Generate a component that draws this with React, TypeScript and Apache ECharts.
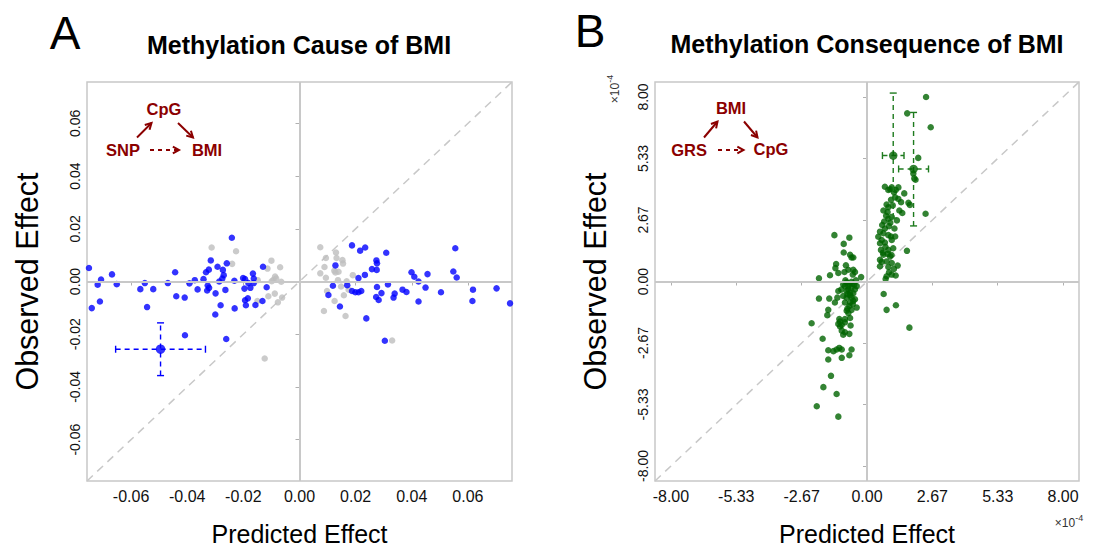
import React, { useEffect, useRef } from "react";
import * as echarts from "echarts";

// ---------- Panel A: Methylation Cause of BMI (predicted, observed) ----------
const causeTicks = [-0.06, -0.04, -0.02, 0, 0.02, 0.04, 0.06];
const causeLimit = 0.0757;

const causeSignificant: [number, number][] = [
  [-0.075, 0.0051], [-0.074, -0.0101], [-0.0719, -0.0012], [-0.0707, 0.0007], [-0.0711, -0.0076],
  [-0.0668, 0.0027], [-0.0651, -0.001], [-0.0567, -0.0029], [-0.0551, -0.0006], [-0.0543, -0.0097],
  [-0.0521, -0.0029], [-0.0469, -0.0006], [-0.0443, 0.0035], [-0.0439, -0.0056], [-0.0409, -0.0061],
  [-0.0408, -0.0204], [-0.0392, -0.0007], [-0.0373, 0.0005], [-0.0363, -0.003], [-0.0342, 0.0009],
  [-0.0333, 0.0035], [-0.0323, 0.0045], [-0.0316, 0.008], [-0.0327, -0.0015], [-0.0322, -0.0024],
  [-0.0329, -0.0034], [-0.0299, -0.0045], [-0.03, -0.0125], [-0.0292, 0.0056], [-0.0286, 0.0],
  [-0.0281, -0.009], [-0.0273, 0.0044], [-0.027, 0.0024], [-0.0275, 0.0011], [-0.0264, -0.0032],
  [-0.0259, 0.0069], [-0.0261, -0.0218], [-0.0241, 0.0166], [-0.0232, 0.0003], [-0.0231, -0.0102],
  [-0.0201, 0.0013], [-0.0194, 0.0009], [-0.0196, -0.0027], [-0.0194, -0.0071], [-0.0191, -0.009],
  [-0.0184, -0.0064], [-0.0182, -0.0006], [-0.0175, -0.0024], [-0.0166, 0.003], [-0.0163, 0.0011],
  [-0.0163, -0.0006], [-0.0157, -0.0089], [-0.0132, -0.0074], [-0.013, 0.0056], [-0.0117, -0.0022],
  [0.0187, 0.0137], [0.0216, 0.0117], [0.0234, 0.0129], [0.0309, 0.0109], [0.0555, 0.0126],
  [0.0128, 0.0061], [0.0274, 0.008], [0.0276, 0.0069], [0.0258, 0.0047], [0.0275, 0.0044],
  [0.0233, 0.0025], [0.021, 0.0013], [0.0399, 0.0035], [0.0409, 0.0018], [0.0424, 0.0],
  [0.0456, 0.0028], [0.0548, 0.0038], [0.056, 0.0015], [0.0315, -0.0011], [0.0119, -0.0016],
  [0.017, -0.0014], [0.0103, -0.0051], [0.0144, -0.0095], [0.0187, -0.0036], [0.0199, -0.0041],
  [0.021, -0.0041], [0.022, -0.0036], [0.0276, -0.0021], [0.0292, -0.0044], [0.0273, -0.0059],
  [0.0282, -0.007], [0.0339, -0.0046], [0.0335, -0.0061], [0.0367, -0.0031], [0.0381, -0.004],
  [0.0449, -0.0023], [0.0424, -0.0076], [0.0504, -0.0041], [0.0618, -0.0031], [0.0616, -0.0074],
  [0.0702, -0.0026], [0.075, -0.0083], [0.0238, -0.014], [0.0304, -0.0225],
];

const causeNonSignificant: [number, number][] = [
  [-0.0313, 0.0129], [-0.0226, 0.0115], [-0.024, 0.0067], [-0.0149, 0.0005], [-0.015, -0.0074],
  [-0.0114, 0.0049], [-0.01, 0.0079], [-0.0069, 0.0054], [-0.0087, 0.0019], [-0.0093, 0.0006],
  [-0.0083, 0.0011], [-0.0065, -0.0001], [-0.0099, 0.0001], [-0.0111, -0.0056], [-0.0088, -0.0046],
  [-0.0077, -0.0079], [-0.0062, -0.0061], [-0.0124, -0.0292],
  [0.0074, 0.013], [0.013, 0.011], [0.0094, 0.0089], [0.0132, 0.0089], [0.0153, 0.0081],
  [0.0155, 0.0068], [0.0089, 0.0055], [0.0074, 0.0031], [0.0124, 0.0041], [0.0139, 0.0037],
  [0.0128, 0.0034], [0.0094, 0.0014], [0.0137, 0.0005], [0.019, 0.0024], [0.0168, 0.0001],
  [0.0148, -0.0019], [0.0098, -0.0036], [0.0175, -0.0031], [0.0158, -0.0052], [0.0125, -0.0074],
  [0.0087, -0.0112], [0.0164, -0.0131], [0.033, -0.0224],
];

// [x, y, xLow, xHigh, yLow, yHigh]
const causeErrorBar: number[][] = [[-0.0495, -0.0257, -0.0655, -0.0335, -0.0357, -0.0157]];

// ---------- Panel B: Methylation Consequence of BMI (units of 1e-4) ----------
const consequenceTicks = [-8, -16 / 3, -8 / 3, 0, 8 / 3, 16 / 3, 8];
const consequenceLimit = 8.65;

const consequencePoints: [number, number][] = [
  [-1.33, 2.01], [-0.72, 1.9], [-0.95, 1.63], [-0.95, 1.26], [-0.69, 1.16], [-0.63, 1.04], [-0.56, 1.04],
  [-1.26, 0.76], [-1.29, 0.58], [-0.86, 0.7], [-0.76, 0.51], [-0.92, 0.41], [-0.56, 0.51], [-0.49, 0.41],
  [-0.58, 0.3], [-0.24, 0.19], [-1.17, 0.37], [-1.51, 0.27], [-1.96, 0.14], [-0.83, -0.03], [-0.72, -0.1],
  [-0.63, -0.01], [-0.52, -0.13], [-0.42, -0.2], [-0.9, -0.2], [-0.76, -0.34], [-1.17, -0.41], [-0.69, -0.49],
  [-0.56, -0.51], [-0.97, -0.63], [-0.83, -0.7], [-0.63, -0.7], [-0.49, -0.77], [-1.21, -0.7], [-1.96, -0.74],
  [-1.54, -0.74], [-1.31, -0.91], [-0.9, -0.91], [-0.69, -0.91], [-0.58, -0.98], [-0.42, -1.13], [-1.58, -1.23],
  [-0.83, -1.27], [-1.62, -1.46], [-0.76, -1.37], [-1.13, -1.63], [-0.9, -1.63], [-0.69, -1.58], [-2.26, -1.81],
  [-1.17, -1.84], [-1.1, -1.95], [-0.67, -1.91], [-1.03, -2.13], [-0.9, -2.2], [-0.72, -2.27], [-0.97, -2.31],
  [-1.81, -2.48], [-1.58, -2.98], [-1.37, -3.02], [-1.24, -2.95], [-1.13, -2.88], [-1.03, -2.95], [-0.63, -2.95],
  [-0.72, -3.2], [-1.03, -3.31], [-1.58, -3.38], [-1.47, -4.09], [-1.78, -4.58], [-1.24, -4.88], [-2.05, -5.41],
  [-1.17, -5.86], [-0.97, -0.13], [-0.76, -0.2], [-0.63, -0.27], [-0.49, -0.34], [-0.83, -0.41], [-0.69, -0.6],
  [-0.56, -0.84], [-0.72, -1.06], [-0.8, -1.17], [-0.63, -1.23], [-1.1, -1.74], [-0.9, -1.77], [-1.03, -1.88],
  [-0.8, -0.55], [-0.6, -0.1], [-0.88, 0.05], [-1.05, -0.35], [-0.45, 0.05],
  [2.41, 8.0], [1.64, 7.29], [2.6, 6.69], [2.09, 5.36], [1.89, 4.68], [1.93, 4.47], [1.98, 4.41], [2.39, 2.94],
  [1.63, 1.33], [0.73, 4.11], [1.01, 4.08], [1.17, 3.97], [1.1, 3.87], [0.87, 3.97], [1.28, 4.08], [1.52, 3.82],
  [0.98, 3.54], [1.28, 3.58], [1.39, 3.44], [1.69, 3.41], [1.75, 3.32], [0.8, 3.34], [0.87, 3.22], [0.67, 3.08],
  [0.84, 3.01], [1.32, 3.08], [1.44, 2.97], [0.87, 2.72], [1.01, 2.8], [0.9, 2.4], [0.73, 2.3], [0.53, 2.16],
  [0.67, 2.09], [0.87, 2.01], [0.46, 1.94], [1.01, 1.8], [0.73, 1.69], [0.53, 1.66], [0.57, 1.37], [0.87, 1.37],
  [1.07, 1.44], [0.67, 1.16], [0.94, 1.09], [0.53, 0.94], [0.8, 0.87], [1.01, 0.8], [1.25, 0.69], [0.53, 0.66],
  [0.87, 0.63], [1.01, 0.3], [1.17, 0.26], [0.8, 0.23], [0.76, 0.11], [0.68, -0.54], [0.8, -1.23], [1.18, -1.03],
  [1.73, -2.0], [0.6, 1.8], [0.95, 2.55], [0.62, 2.45], [1.15, 1.95], [0.75, 1.5], [1.0, 1.15], [0.6, 0.85],
  [1.1, 0.55], [0.9, 0.4], [0.7, 2.6], [1.05, 3.3], [0.78, 2.85], [1.12, 2.3], [0.98, 1.95], [0.85, 1.2],
  [1.15, 3.65], [0.95, 4.0], [1.22, 2.65], [0.65, 1.25],
];

const consequenceErrorBars: number[][] = [
  [1.07, 5.46, 0.63, 1.51, 2.75, 8.17],
  [1.9, 4.88, 1.29, 2.51, 2.41, 7.33],
];

// ---------- styling ----------
const GRAY_LINE = "#c8c8c8";
const DARK_RED = "#8b0000";
const BLUE = "#0000ff";
const LIGHT_GRAY = "#bebebe";
const GREEN = "#006400";
const GREEN_BAR = "#1e7b1e";
const SANS = "'Liberation Sans',Arial,Helvetica,sans-serif";

function xAxisDef(gridIndex: number, lim: number, ticks: number[]) {
  return {
    type: "value",
    gridIndex,
    min: -lim,
    max: lim,
    axisLine: { show: false },
    splitLine: { show: false },
    axisTick: { show: true, customValues: ticks, length: 4, lineStyle: { color: "#b0b0b0", width: 1 } },
    axisLabel: {
      show: true,
      customValues: ticks,
      formatter: (v: number) => v.toFixed(2),
      fontSize: 16,
      fontFamily: SANS,
      color: "#111",
      margin: 7,
    },
    name: "Predicted Effect",
    nameLocation: "middle",
    nameGap: 40,
    nameTextStyle: { fontSize: 25, fontFamily: SANS, color: "#000" },
  };
}

function yAxisDef(gridIndex: number, lim: number, ticks: number[]) {
  return {
    type: "value",
    gridIndex,
    min: -lim,
    max: lim,
    axisLine: { show: false },
    splitLine: { show: false },
    axisTick: { show: true, customValues: ticks, length: 4, lineStyle: { color: "#b0b0b0", width: 1 } },
    axisLabel: {
      show: true,
      customValues: ticks,
      formatter: (v: number) => v.toFixed(2),
      fontSize: 14,
      fontFamily: SANS,
      color: "#111",
      rotate: 90,
      margin: 5,
    },
    name: "Observed Effect",
    nameLocation: "middle",
    nameGap: 45,
    nameTextStyle: { fontSize: 30.5, fontFamily: SANS, color: "#000" },
  };
}

function referenceSeries(axisIndex: number, lim: number) {
  return {
    type: "line",
    xAxisIndex: axisIndex,
    yAxisIndex: axisIndex,
    data: [[-lim, -lim], [lim, lim]],
    symbol: "none",
    silent: true,
    lineStyle: { color: GRAY_LINE, width: 1.5, type: [8, 6] },
    markLine: {
      silent: true,
      symbol: ["none", "none"],
      label: { show: false },
      lineStyle: { color: GRAY_LINE, width: 2, type: "solid" },
      data: [{ xAxis: 0 }, { yAxis: 0 }],
    },
    z: 1,
  };
}

function errorBarSeries(axisIndex: number, data: number[][], color: string) {
  return {
    type: "custom",
    xAxisIndex: axisIndex,
    yAxisIndex: axisIndex,
    data,
    silent: true,
    z: 3,
    renderItem: (_params: any, api: any) => {
      const x = api.value(0);
      const y = api.value(1);
      const pl = api.coord([api.value(2), y]);
      const ph = api.coord([api.value(3), y]);
      const pb = api.coord([x, api.value(4)]);
      const pt = api.coord([x, api.value(5)]);
      const cap = 3.5;
      const dash = { stroke: color, lineWidth: 1.4, lineDash: [5, 4], fill: null };
      const solid = { stroke: color, lineWidth: 1.4, fill: null };
      return {
        type: "group",
        children: [
          { type: "line", shape: { x1: pl[0], y1: pl[1], x2: ph[0], y2: ph[1] }, style: dash },
          { type: "line", shape: { x1: pb[0], y1: pb[1], x2: pt[0], y2: pt[1] }, style: dash },
          { type: "line", shape: { x1: pl[0], y1: pl[1] - cap, x2: pl[0], y2: pl[1] + cap }, style: solid },
          { type: "line", shape: { x1: ph[0], y1: ph[1] - cap, x2: ph[0], y2: ph[1] + cap }, style: solid },
          { type: "line", shape: { x1: pb[0] - cap, y1: pb[1], x2: pb[0] + cap, y2: pb[1] }, style: solid },
          { type: "line", shape: { x1: pt[0] - cap, y1: pt[1], x2: pt[0] + cap, y2: pt[1] }, style: solid },
        ],
      };
    },
  };
}

function arrow(x1: number, y1: number, x2: number, y2: number, dashed: boolean) {
  const ang = Math.atan2(y2 - y1, x2 - x1);
  const L = 7;
  const a = 0.5;
  const h1 = [x2 - L * Math.cos(ang - a), y2 - L * Math.sin(ang - a)];
  const h2 = [x2 - L * Math.cos(ang + a), y2 - L * Math.sin(ang + a)];
  return [
    {
      type: "line",
      shape: { x1, y1, x2, y2 },
      style: { stroke: DARK_RED, lineWidth: 2, lineDash: dashed ? [4, 4] : null },
      silent: true,
    },
    {
      type: "polyline",
      shape: { points: [h1, [x2, y2], h2] },
      style: { stroke: DARK_RED, lineWidth: 2, fill: null },
      silent: true,
    },
  ];
}

function label(text: string, x: number, y: number, font: string, color = "#000", extra: any = {}) {
  return {
    type: "text",
    x,
    y,
    silent: true,
    ...extra,
    style: { text, font, fill: color, align: "center", verticalAlign: "middle" },
  };
}

function powerLabel(x: number, y: number, rotation: number) {
  return {
    type: "text",
    x,
    y,
    rotation,
    silent: true,
    style: {
      text: "{a|×10}{b|-4}",
      align: "center",
      verticalAlign: "middle",
      fill: "#333",
      rich: {
        a: { fontSize: 12, fontFamily: SANS, fill: "#333", lineHeight: 16, verticalAlign: "bottom" },
        b: { fontSize: 9, fontFamily: SANS, fill: "#333", lineHeight: 16, verticalAlign: "top" },
      },
    },
  };
}

export default function App() {
  const ref = useRef<HTMLDivElement>(null);

  useEffect(() => {
    if (!ref.current) return;
    const chart = echarts.init(ref.current, null, { renderer: "svg" });
    const diagramFont = `bold 16.5px ${SANS}`;
    const option: any = {
      animation: false,
      backgroundColor: "#ffffff",
      grid: [
        { left: 87, top: 82, width: 425, height: 404, show: true, borderColor: GRAY_LINE, borderWidth: 1.5, backgroundColor: "transparent" },
        { left: 655, top: 82, width: 424, height: 404, show: true, borderColor: GRAY_LINE, borderWidth: 1.5, backgroundColor: "transparent" },
      ],
      xAxis: [xAxisDef(0, causeLimit, causeTicks), xAxisDef(1, consequenceLimit, consequenceTicks)],
      yAxis: [yAxisDef(0, causeLimit, causeTicks), yAxisDef(1, consequenceLimit, consequenceTicks)],
      series: [
        referenceSeries(0, causeLimit),
        {
          type: "scatter", xAxisIndex: 0, yAxisIndex: 0, data: causeNonSignificant,
          symbolSize: 6.5, itemStyle: { color: LIGHT_GRAY }, z: 2, silent: true,
        },
        {
          type: "scatter", xAxisIndex: 0, yAxisIndex: 0, data: causeSignificant,
          symbolSize: 6.5, itemStyle: { color: BLUE }, z: 2, silent: true,
        },
        errorBarSeries(0, causeErrorBar, BLUE),
        {
          type: "scatter", xAxisIndex: 0, yAxisIndex: 0, data: causeErrorBar.map((d) => [d[0], d[1]]),
          symbolSize: 9.5, itemStyle: { color: BLUE }, z: 4, silent: true,
        },
        referenceSeries(1, consequenceLimit),
        {
          type: "scatter", xAxisIndex: 1, yAxisIndex: 1, data: consequencePoints,
          symbolSize: 6.5, itemStyle: { color: GREEN }, z: 2, silent: true,
        },
        errorBarSeries(1, consequenceErrorBars, GREEN_BAR),
        {
          type: "scatter", xAxisIndex: 1, yAxisIndex: 1, data: consequenceErrorBars.map((d) => [d[0], d[1]]),
          symbolSize: 8.5, itemStyle: { color: GREEN }, z: 4, silent: true,
        },
      ],
      graphic: [
        label("A", 65, 33, `46px ${SANS}`),
        label("B", 590, 31, `46px ${SANS}`),
        label("Methylation Cause of BMI", 299, 45, `bold 25px ${SANS}`),
        label("Methylation Consequence of BMI", 867, 44, `bold 25px ${SANS}`),
        powerLabel(613, 89, Math.PI / 2),
        powerLabel(1069, 521, 0),
        label("CpG", 164, 109, diagramFont, DARK_RED),
        label("SNP", 123, 150, diagramFont, DARK_RED),
        label("BMI", 207, 150, diagramFont, DARK_RED),
        ...arrow(137, 137.5, 151.5, 123, false),
        ...arrow(178, 123, 193, 137.5, false),
        ...arrow(150, 150, 179, 150, true),
        label("BMI", 731, 108, diagramFont, DARK_RED),
        label("GRS", 689, 150, diagramFont, DARK_RED),
        label("CpG", 771, 149, diagramFont, DARK_RED),
        ...arrow(704, 137.5, 717.5, 121.5, false),
        ...arrow(744, 121.5, 757.5, 137.5, false),
        ...arrow(718, 150, 743.5, 150, true),
      ],
    };
    chart.setOption(option);
    return () => chart.dispose();
  }, []);

  return (
    <div
      ref={ref}
      style={{ position: "fixed", left: 0, top: 0, width: 1097, height: 551, background: "#fff" }}
    />
  );
}
